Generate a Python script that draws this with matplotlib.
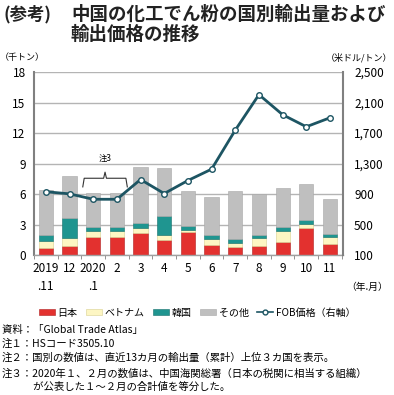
import matplotlib
matplotlib.use("Agg")
import matplotlib.pyplot as plt
from matplotlib.patches import Patch
from matplotlib.lines import Line2D

plt.rcParams['font.family'] = ['Noto Sans CJK JP', 'DejaVu Sans']

months = ["2019\n.11", "12", "2020\n.1", "2", "3", "4", "5", "6", "7", "8", "9", "10", "11"]
japan   = [0.66, 0.92, 1.80, 1.80, 2.16, 1.51, 2.26, 0.98, 0.75, 0.89, 1.31, 2.69, 1.08]
vietnam = [0.75, 0.75, 0.59, 0.59, 0.53, 0.42, 0.24, 0.56, 0.40, 0.75, 1.08, 0.36, 0.66]
korea   = [0.56, 1.93, 0.36, 0.36, 0.46, 1.91, 0.35, 0.43, 0.42, 0.33, 0.40, 0.39, 0.33]
others  = [4.42, 4.17, 3.35, 3.35, 5.54, 4.75, 3.48, 3.70, 4.76, 4.00, 3.77, 3.54, 3.47]
fob     = [930, 902, 831, 831, 1090, 906, 1077, 1226, 1738, 2203, 1940, 1782, 1900]

left_ticks = [0, 3, 6, 9, 12, 15, 18]
right_ticks = [100, 500, 900, 1300, 1700, 2100, 2500]

c_jp, c_vn, c_kr, c_ot = "#e3312f", "#fdf6c3", "#1f9590", "#bfbfbf"
c_line = "#1d5563"

fig = plt.figure(figsize=(3.94, 3.95), dpi=100)
ax = fig.add_axes([0.0863, 0.3544, 0.7843, 0.4633])
x = list(range(len(months)))
w = 0.6
b1 = [a for a in japan]
b2 = [a + b for a, b in zip(b1, vietnam)]
b3 = [a + b for a, b in zip(b2, korea)]
ax.bar(x, japan, w, color=c_jp, edgecolor="#b02020", linewidth=0.4, zorder=2)
ax.bar(x, vietnam, w, bottom=b1, color=c_vn, edgecolor="#d8cf90", linewidth=0.4, zorder=2)
ax.bar(x, korea, w, bottom=b2, color=c_kr, edgecolor="#14706c", linewidth=0.4, zorder=2)
ax.bar(x, others, w, bottom=b3, color=c_ot, edgecolor="#a8a8a8", linewidth=0.4, zorder=2)

ax.set_xlim(-0.5, 12.55)
ax.set_ylim(0, 18)
ax.set_yticks(left_ticks)
ax.set_yticklabels([str(t) for t in left_ticks], fontsize=8.5)
ax.grid(axis="y", color="#b4b4b4", linewidth=1.0, zorder=0)
ax.set_xticks([i + 0.5 for i in range(-1, 13)], minor=True)
ax.set_xticks(x)
ax.set_xticklabels(months, fontsize=8.5, linespacing=1.5, va="top")
ax.tick_params(axis="x", which="major", length=0, pad=5)
ax.tick_params(axis="x", which="minor", length=3, color="#808080", direction="out")
ax.tick_params(axis="y", length=0, pad=6)
ax.spines["top"].set_visible(False)
ax.spines["left"].set_color("#808080")
ax.spines["left"].set_linewidth(1.5)
ax.spines["right"].set_visible(False)
ax.spines["bottom"].set_color("#a0a0a0")
ax.spines["bottom"].set_linewidth(1.0)

ax2 = ax.twinx()
ax2.set_ylim(100, 2500)
ax2.set_yticks(right_ticks)
ax2.set_yticklabels([f"{t:,}" for t in right_ticks], fontsize=8.5)
ax2.tick_params(axis="y", length=0, pad=8)
ax2.plot(x, fob, color=c_line, linewidth=2, marker="o", markersize=4,
         markerfacecolor="white", markeredgecolor=c_line, markeredgewidth=1, zorder=5)
for s in ["top", "left", "bottom"]:
    ax2.spines[s].set_visible(False)
ax2.spines["right"].set_color("#808080")
ax2.spines["right"].set_linewidth(1.5)

# brace for note 3
bx = [1.56, 1.62, 2.44, 2.5, 2.56, 3.38, 3.44]
by = [6.7, 7.55, 7.55, 8.15, 7.55, 7.55, 6.7]
ax.plot(bx, by, color="#333333", linewidth=0.8, zorder=4)
ax.text(2.5, 9.5, "注3", fontsize=6, ha="center", va="center")

# titles
fig.text(0.008, 0.988, "(参考)", fontsize=12.5, fontweight="bold", va="top", color="#222222")
fig.text(0.180, 0.988, "中国の化工でん粉の国別輸出量および", fontsize=13.3, fontweight="bold", va="top", color="#222222")
fig.text(0.180, 0.936, "輸出価格の推移", fontsize=13.3, fontweight="bold", va="top", color="#222222")
fig.text(0.0, 0.855, "（千トン）", fontsize=6.5, va="center")
fig.text(0.995, 0.855, "（米ドル/トン）", fontsize=6.5, va="center", ha="right")
fig.text(0.932, 0.273, "（年.月）", fontsize=7, va="center", ha="center")

handles = [
    Patch(facecolor=c_jp, edgecolor="#b02020", linewidth=0.4, label="日本"),
    Patch(facecolor=c_vn, edgecolor="#d8cf90", linewidth=0.4, label="ベトナム"),
    Patch(facecolor=c_kr, edgecolor="#14706c", linewidth=0.4, label="韓国"),
    Patch(facecolor=c_ot, edgecolor="#a8a8a8", linewidth=0.4, label="その他"),
    Line2D([0], [0], color=c_line, linewidth=1.2, marker="o", markersize=3.5,
           markerfacecolor="white", markeredgecolor=c_line, label="FOB価格（右軸）"),
]
fig.legend(handles=handles, loc="center", bbox_to_anchor=(0.5, 0.208), ncol=5,
           frameon=False, fontsize=7.2, handlelength=1.6, handleheight=0.6,
           handletextpad=0.3, columnspacing=0.8)

notes = [
    "資料：「Global Trade Atlas」",
    "注１：HSコード3505.10",
    "注２：国別の数値は、直近13カ月の輸出量（累計）上位３カ国を表示。",
    "注３：2020年１、２月の数値は、中国海関総署（日本の税関に相当する組織）",
    "　　　が公表した１～２月の合計値を等分した。",
]
ys = [0.165, 0.131, 0.094, 0.055, 0.020]
for t, yy in zip(notes, ys):
    fig.text(0.005, yy, t, fontsize=7.5, va="center")

fig.savefig("out.png", dpi=100)
